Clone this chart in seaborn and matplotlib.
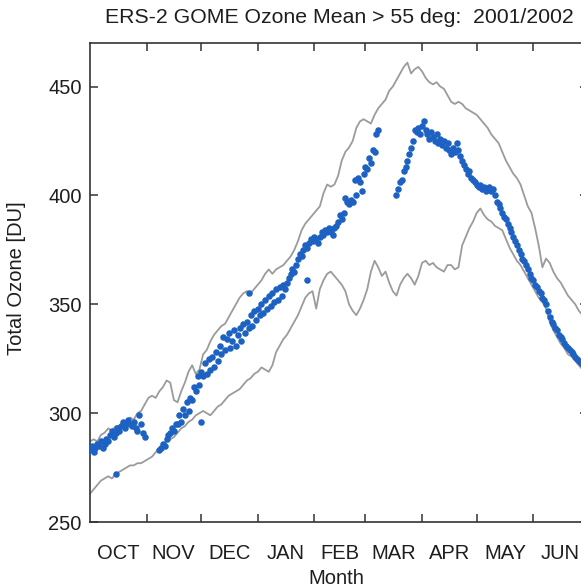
import matplotlib
matplotlib.use("Agg")
import matplotlib.pyplot as plt
import seaborn as sns
import pandas as pd

# ---------------- data (day 0 = 1 October 2001) ----------------
title = "ERS-2 GOME Ozone Mean > 55 deg:  2001/2002"
month_labels = ["OCT", "NOV", "DEC", "JAN", "FEB", "MAR", "APR", "MAY", "JUN"]
month_starts = [31, 61, 92, 123, 151, 182, 212, 243]
month_mids = [15.5, 45.5, 76.5, 107.5, 137, 166.5, 197, 227.5, 258]
y_ticks = [250, 300, 350, 400, 450]

# daily means 2001/2002 (blue dots)
segA_days = list(range(0, 31))
segA_du = [283, 285, 282, 284, 286, 285, 287, 284, 286, 288, 287, 290, 292, 289, 291,
           293, 292, 294, 296, 293, 295, 297, 295, 294, 296, 293, 292, 299, 295, 291, 289]
segB_days = list(range(38, 159))
segB_du = [283, 284, 286, 285, 288, 290, 291, 293, 292, 295,
           295, 299, 296, 302, 299, 305, 301, 307, 306, 312,
           310, 317, 313, 319, 317, 323, 318, 325, 320, 326,
           321, 328, 324, 331, 327, 335, 329, 334, 337, 330,
           333, 338, 331, 336, 339, 333, 341, 337, 342, 339,
           345, 340, 347, 343, 348, 345, 350, 346, 352, 348,
           354, 349, 355, 351, 357, 352, 358, 354, 359, 357,
           360, 362, 364, 366, 365, 368, 371, 373, 372, 375,
           377, 376, 378, 380, 379, 381, 380, 378, 381, 383,
           382, 384, 383, 385, 383, 382, 385, 386, 388, 391,
           389, 392, 399, 397, 396, 398, 397, 407, 400, 408,
           406, 402, 410, 413, 412, 417, 415, 421, 420, 428,
           430]
segC_days = list(range(168, 270))
segC_du = [400, 403, 406, 407, 411, 413, 416, 419, 422, 425,
           430, 429, 431, 428, 432, 434, 430, 428, 426, 429,
           427, 425, 428, 424, 426, 423, 425, 422, 424, 421,
           419, 422, 420, 424, 421, 418, 416, 414, 412, 410,
           411, 408, 407, 406, 405, 404, 405, 403, 404, 402,
           403, 404, 402, 403, 400, 397, 396, 394, 392, 390,
           389, 387, 385, 383, 381, 379, 377, 375, 373, 371,
           370, 368, 366, 364, 362, 361, 359, 358, 356, 355,
           353, 352, 350, 347, 344, 342, 341, 339, 338, 336,
           335, 334, 332, 331, 330, 329, 328, 327, 326, 325,
           324, 323]
extra_days = [14, 61, 87, 119]
extra_du = [272, 296, 355, 361]

# historical maximum / minimum (grey lines), every second day
line_days = list(range(0, 273, 2))
upper_max = [287, 288, 287, 290, 291, 293, 292, 294, 294, 296,
             296, 298, 297, 300, 301, 304, 307, 308, 307, 310,
             312, 315, 314, 306, 305, 310, 314, 319, 322, 318,
             320, 327, 329, 333, 336, 338, 340, 341, 344, 347,
             350, 353, 355, 356, 355, 357, 359, 361, 364, 366,
             364, 366, 367, 368, 370, 372, 375, 379, 384, 387,
             389, 391, 393, 395, 401, 405, 404, 405, 409, 416,
             420, 422, 425, 431, 434, 435, 434, 433, 437, 440,
             442, 444, 448, 450, 453, 456, 459, 461, 456, 458,
             459, 457, 454, 452, 451, 452, 450, 449, 446, 443,
             442, 443, 442, 440, 439, 438, 437, 435, 433, 431,
             428, 426, 424, 420, 416, 413, 410, 408, 405, 400,
             395, 392, 385, 377, 367, 371, 369, 365, 362, 360,
             357, 354, 352, 350, 347, 345, 343]
lower_min = [263, 265, 267, 269, 270, 271, 270, 272, 273, 274,
             275, 276, 276, 277, 277, 278, 279, 280, 282, 284,
             286, 287, 288, 289, 291, 293, 294, 296, 297, 299,
             300, 301, 300, 299, 301, 303, 304, 306, 308, 309,
             310, 311, 313, 315, 316, 318, 319, 321, 320, 319,
             322, 328, 331, 334, 336, 339, 342, 345, 349, 353,
             355, 356, 348, 357, 361, 364, 365, 363, 361, 359,
             356, 350, 347, 345, 348, 352, 357, 365, 370, 367,
             363, 365, 360, 356, 354, 359, 362, 364, 362, 359,
             363, 369, 370, 368, 369, 367, 366, 365, 368, 368,
             366, 367, 377, 381, 385, 388, 392, 394, 391, 389,
             388, 386, 385, 384, 380, 376, 373, 370, 368, 365,
             362, 359, 356, 353, 351, 348, 342, 338, 335, 332,
             330, 327, 326, 324, 322, 320, 318]

# ---------------- plotting ----------------
sns.set_style("white")
plt.rcParams['font.family'] = ['Liberation Sans', 'DejaVu Sans']

dots = pd.DataFrame({
    "day": segA_days + segB_days + segC_days + extra_days,
    "ozone": segA_du + segB_du + segC_du + extra_du,
})
lines = pd.DataFrame({"day": line_days, "upper": upper_max, "lower": lower_min})

fig = plt.figure(figsize=(5.81, 5.88), dpi=100)
ax = fig.add_axes([90 / 581, 1 - 522 / 588, 498 / 581, 479 / 588])

grey = "#9b9b9b"
sns.lineplot(data=lines, x="day", y="upper", ax=ax, color=grey, lw=1.3,
             estimator=None, sort=False, zorder=2)
sns.lineplot(data=lines, x="day", y="lower", ax=ax, color=grey, lw=1.3,
             estimator=None, sort=False, zorder=2)
sns.scatterplot(data=dots, x="day", y="ozone", ax=ax, color="#1d62c2",
                s=22, linewidth=0, zorder=3)

ax.set_xlim(0, 273)
ax.set_ylim(250, 470)
ax.set_xlabel("")
ax.set_ylabel("")

ax.set_xticks(month_starts)
ax.set_xticklabels([])
ax.set_xticks(month_mids, minor=True)
ax.set_xticklabels(month_labels, minor=True)
ax.set_yticks(y_ticks)
ax.set_yticklabels([str(v) for v in y_ticks])

txt = "#1e1e1e"
ax.tick_params(axis="x", which="major", direction="in", length=6, width=1.1,
               top=True, bottom=True, labelbottom=False, color="#333333")
ax.tick_params(axis="x", which="minor", length=0, pad=16, labelsize=14.5,
               labelcolor=txt)
ax.tick_params(axis="y", which="major", direction="in", length=6, width=1.1,
               left=True, right=True, labelsize=14.5, pad=6, color="#333333",
               labelcolor=txt)
for s in ax.spines.values():
    s.set_visible(True)
    s.set_color("#333333")
    s.set_linewidth(1.2)

fig.text(339 / 581, 1 - 23 / 588, title, ha="center", va="baseline",
         fontsize=15.3, color=txt)
fig.text(17 / 581, 1 - 278 / 588, "Total Ozone [DU]", rotation=90,
         ha="center", va="center", fontsize=14.5, color=txt)
fig.text(336 / 581, 1 - 579 / 588, "Month", ha="center", va="center",
         fontsize=14.5, color=txt)

fig.savefig("out.png", dpi=100)
